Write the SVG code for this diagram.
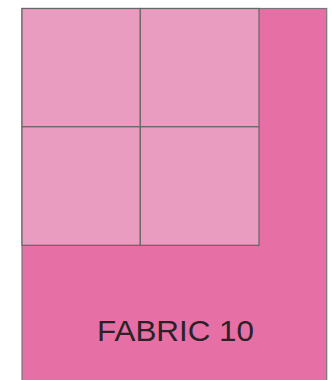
<svg xmlns="http://www.w3.org/2000/svg" width="332" height="380" viewBox="0 0 332 380">
<style>
.blk{fill:#EA9BC0;stroke:#666;stroke-width:1.2}
.bg{fill:#E670A5;stroke:#777;stroke-width:1.2}
.lbl{font-family:"Liberation Sans",Arial,sans-serif;font-size:30px;fill:#2a2226}
</style>
<rect width="332" height="380" fill="#fff"/>
<g id="fabric10">
<rect class="bg" x="22" y="8.5" width="304.7" height="380"/>
<text class="lbl" x="97" y="340.7" textLength="157" lengthAdjust="spacingAndGlyphs">FABRIC 10</text>
</g>
<g id="block1"><rect class="blk" x="22" y="8.5" width="118.3" height="118.3"/></g>
<g id="block2"><rect class="blk" x="140.3" y="8.5" width="118.7" height="118.3"/></g>
<g id="block3"><rect class="blk" x="22" y="126.8" width="118.3" height="118.5"/></g>
<g id="block4"><rect class="blk" x="140.3" y="126.8" width="118.7" height="118.5"/></g>
<g id="connectors"></g>
</svg>
